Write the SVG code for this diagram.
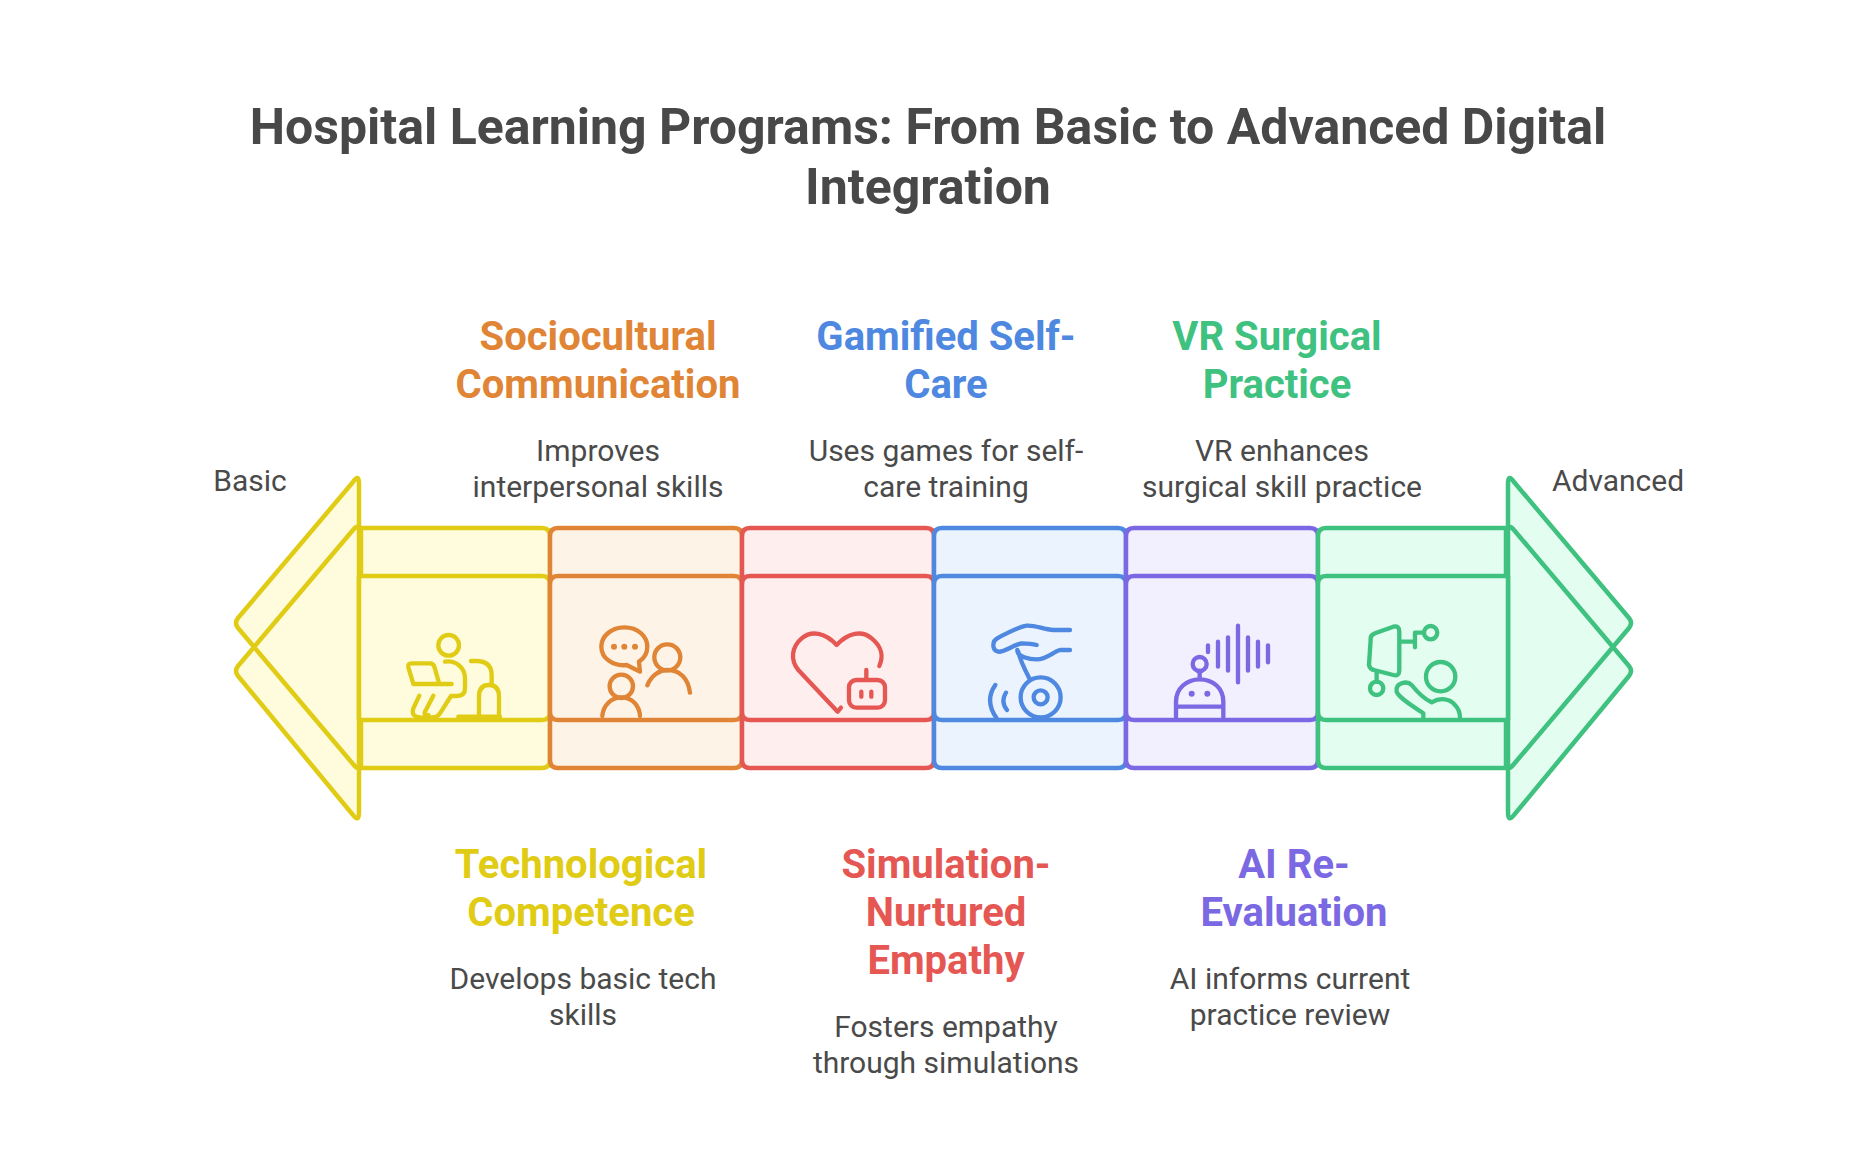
<svg xmlns="http://www.w3.org/2000/svg" width="1868" height="1176" viewBox="0 0 1868 1176">
<style>
text{font-family:Roboto,"Liberation Sans",sans-serif;text-anchor:middle}
.t{font-size:50px;font-weight:700;fill:#484848}
.h{font-size:40px;font-weight:700}
.d{font-size:30px;fill:#4a4a4a}
.s{stroke-width:4.5;stroke-linejoin:round;stroke-linecap:round}
.i{fill:none;stroke-width:13;stroke-linecap:round;stroke-linejoin:round}
.y{stroke:#e0cb15;fill:#fefcdc}.o{stroke:#e08435;fill:#fef3e7}.r{stroke:#e55753;fill:#ffeeee}.b{stroke:#4e88e0;fill:#ebf3ff}.p{stroke:#7b68e3;fill:#f2f0ff}.g{stroke:#3fc17f;fill:#e3fdf0}
.dy{fill:#e0cb15}.do{fill:#e08435}.dr{fill:#e55753}.db{fill:#4e88e0}.dp{fill:#7b68e3}.dg{fill:#3fc17f}
</style>
<rect width="1868" height="1176" fill="#fff"/>
<g id="title"><text class="t" x="928" y="144">Hospital Learning Programs: From Basic to Advanced Digital</text><text class="t" x="928" y="204">Integration</text></g>
<g id="arrow-start">
<path class="y" style="stroke:none" d="M359 476L236 623L359 768ZM359 526L236 671L359 819Z"/>
<path class="y s" style="fill:none" d="M353 482Q359 473 359 484V812Q359 823 353 815L238 676Q234 671 238 666L353 530Q357 525 359 528M353 482L238 618Q234 623 238 628L353 764Q357 769 359 768"/>
<text class="d" x="250" y="491">Basic</text>
</g>
<g id="arrow-end">
<path class="g" style="stroke:none" d="M1508 476L1632 623L1508 768ZM1508 526L1632 671L1508 819Z"/>
<path class="g s" style="fill:none" d="M1514 482Q1508 473 1508 484V812Q1508 823 1514 815L1629 676Q1633 671 1629 666L1514 530Q1510 525 1508 528M1514 482L1629 618Q1633 623 1629 628L1514 764Q1510 769 1508 768"/>
<text class="d" x="1618" y="491">Advanced</text>
</g>
<g id="node-technological">
<path class="y s" d="M361 528H542Q550 528 550 536V760Q550 768 542 768H361Z"/>
<path class="y s" d="M359 576H542Q550 576 550 584V712Q550 720 542 720H359Z"/>
<g class="i" stroke="#e0cb15" transform="translate(390 610) scale(.3333)">
<circle cx="176" cy="106" r="31"/><path d="M70 222L55 172Q52 160 65 160H120Q130 160 133 170L148 222M70 222H185M165 155C200 150 225 175 225 205V235Q225 258 200 258H183L150 310Q140 325 120 322Q100 320 105 305L130 257M88 257L70 295Q62 320 90 322Q105 325 115 315M243 153H262Q305 155 305 195V225M267 322V260Q267 225 297 225Q327 225 327 260V322M205 320H330"/></g>
<text class="h dy" x="581" y="878">Technological</text><text class="h dy" x="581" y="926">Competence</text>
<text class="d" x="583" y="989">Develops basic tech</text><text class="d" x="583" y="1025">skills</text>
</g>
<g id="node-sociocultural">
<path class="o s" d="M550 536Q550 528 558 528H734Q742 528 742 536V760Q742 768 734 768H558Q550 768 550 760Z"/>
<path class="o s" d="M550 584Q550 576 558 576H734Q742 576 742 584V712Q742 720 734 720H558Q550 720 550 712Z"/>
<g class="i" stroke="#e08435" transform="translate(390 610) scale(.3333)">
<path d="M703 52C745 52 772 80 772 110C772 130 762 145 747 155L750 185L710 165C670 170 634 145 634 110C634 78 665 52 703 52Z"/><circle cx="832" cy="142" r="39"/><path d="M772 226C785 195 810 180 832 180C870 180 895 205 900 248"/><circle cx="694" cy="229" r="35"/><path d="M637 318C640 285 665 262 694 262C725 262 748 285 750 318"/>
<g stroke="none" fill="#e08435"><circle cx="672" cy="110" r="9"/><circle cx="703" cy="110" r="9"/><circle cx="735" cy="110" r="9"/></g></g>
<text class="h do" x="598" y="350">Sociocultural</text><text class="h do" x="598" y="398">Communication</text>
<text class="d" x="598" y="461">Improves</text><text class="d" x="598" y="497">interpersonal skills</text>
</g>
<g id="node-simulation">
<path class="r s" d="M742 536Q742 528 750 528H926Q934 528 934 536V760Q934 768 926 768H750Q742 768 742 760Z"/>
<path class="r s" d="M742 584Q742 576 750 576H926Q934 576 934 584V712Q934 720 926 720H750Q742 720 742 712Z"/>
<g class="i" stroke="#e55753" transform="translate(770 610) scale(.3333)">
<path d="M213 293L203 305L85 180C60 150 65 110 95 85C125 60 165 68 200 105C235 68 275 60 305 85C335 110 342 135 328 168"/><rect x="237" y="210" width="108" height="83" rx="22"/><path d="M289 180V210M274 245V260M304 245V260"/></g>
<text class="h dr" x="946" y="878">Simulation-</text><text class="h dr" x="946" y="926">Nurtured</text><text class="h dr" x="946" y="974">Empathy</text>
<text class="d" x="946" y="1037">Fosters empathy</text><text class="d" x="946" y="1073">through simulations</text>
</g>
<g id="node-gamified">
<path class="b s" d="M934 536Q934 528 942 528H1118Q1126 528 1126 536V760Q1126 768 1118 768H942Q934 768 934 760Z"/>
<path class="b s" d="M934 584Q934 576 942 576H1118Q1126 576 1126 584V712Q1126 720 1118 720H942Q934 720 934 712Z"/>
<g class="i" stroke="#4e88e0" transform="translate(770 610) scale(.3333)">
<path d="M900 60H850C820 58 795 45 770 47C750 50 700 75 685 83C665 92 665 120 685 125C700 128 730 105 755 100C775 100 790 102 800 105M900 120H870C850 125 830 148 800 148C780 148 740 140 742 120M745 125C750 150 765 180 778 205M676 225C655 255 655 290 680 325M708 248C697 265 697 282 711 300"/><circle cx="812" cy="262" r="60"/><circle cx="812" cy="262" r="21"/></g>
<text class="h db" x="946" y="350">Gamified Self-</text><text class="h db" x="946" y="398">Care</text>
<text class="d" x="946" y="461">Uses games for self-</text><text class="d" x="946" y="497">care training</text>
</g>
<g id="node-ai">
<path class="p s" d="M1126 536Q1126 528 1134 528H1310Q1318 528 1318 536V760Q1318 768 1310 768H1134Q1126 768 1126 760Z"/>
<path class="p s" d="M1126 584Q1126 576 1134 576H1310Q1318 576 1318 584V712Q1318 720 1310 720H1134Q1126 720 1126 712Z"/>
<g class="i" stroke="#7b68e3" transform="translate(1150 610) scale(.3333)">
<circle cx="149" cy="162" r="21"/><path d="M149 183V205M78 322V275C78 235 110 208 149 208C190 208 220 235 220 275V322M78 290H220M174 106V126M204 95V170M234 82V182M264 47V217M294 82V182M324 95V170M354 106V157"/>
<g stroke="none" fill="#7b68e3"><circle cx="125" cy="251" r="9"/><circle cx="172" cy="251" r="9"/></g></g>
<text class="h dp" x="1294" y="878">AI Re-</text><text class="h dp" x="1294" y="926">Evaluation</text>
<text class="d" x="1290" y="989">AI informs current</text><text class="d" x="1290" y="1025">practice review</text>
</g>
<g id="node-vr">
<path class="g s" d="M1318 536Q1318 528 1326 528H1506V768H1326Q1318 768 1318 760Z"/>
<path class="g s" d="M1318 584Q1318 576 1326 576H1508V720H1326Q1318 720 1318 712Z"/>
<g class="i" stroke="#3fc17f" transform="translate(1150 610) scale(.3333)">
<path d="M662 90Q660 75 675 70L730 50Q748 46 748 65V180Q748 200 730 195L672 180Q660 178 657 165ZM748 95H795M795 112V68H820M680 185V215M820 322V310C790 290 745 262 740 245C735 220 770 210 785 225C805 250 825 268 845 277C870 262 900 265 915 285C925 295 930 310 930 322"/><circle cx="842" cy="68" r="20"/><circle cx="680" cy="235" r="20"/><circle cx="872" cy="200" r="44"/></g>
<text class="h dg" x="1277" y="350">VR Surgical</text><text class="h dg" x="1277" y="398">Practice</text>
<text class="d" x="1282" y="461">VR enhances</text><text class="d" x="1282" y="497">surgical skill practice</text>
</g>
</svg>
